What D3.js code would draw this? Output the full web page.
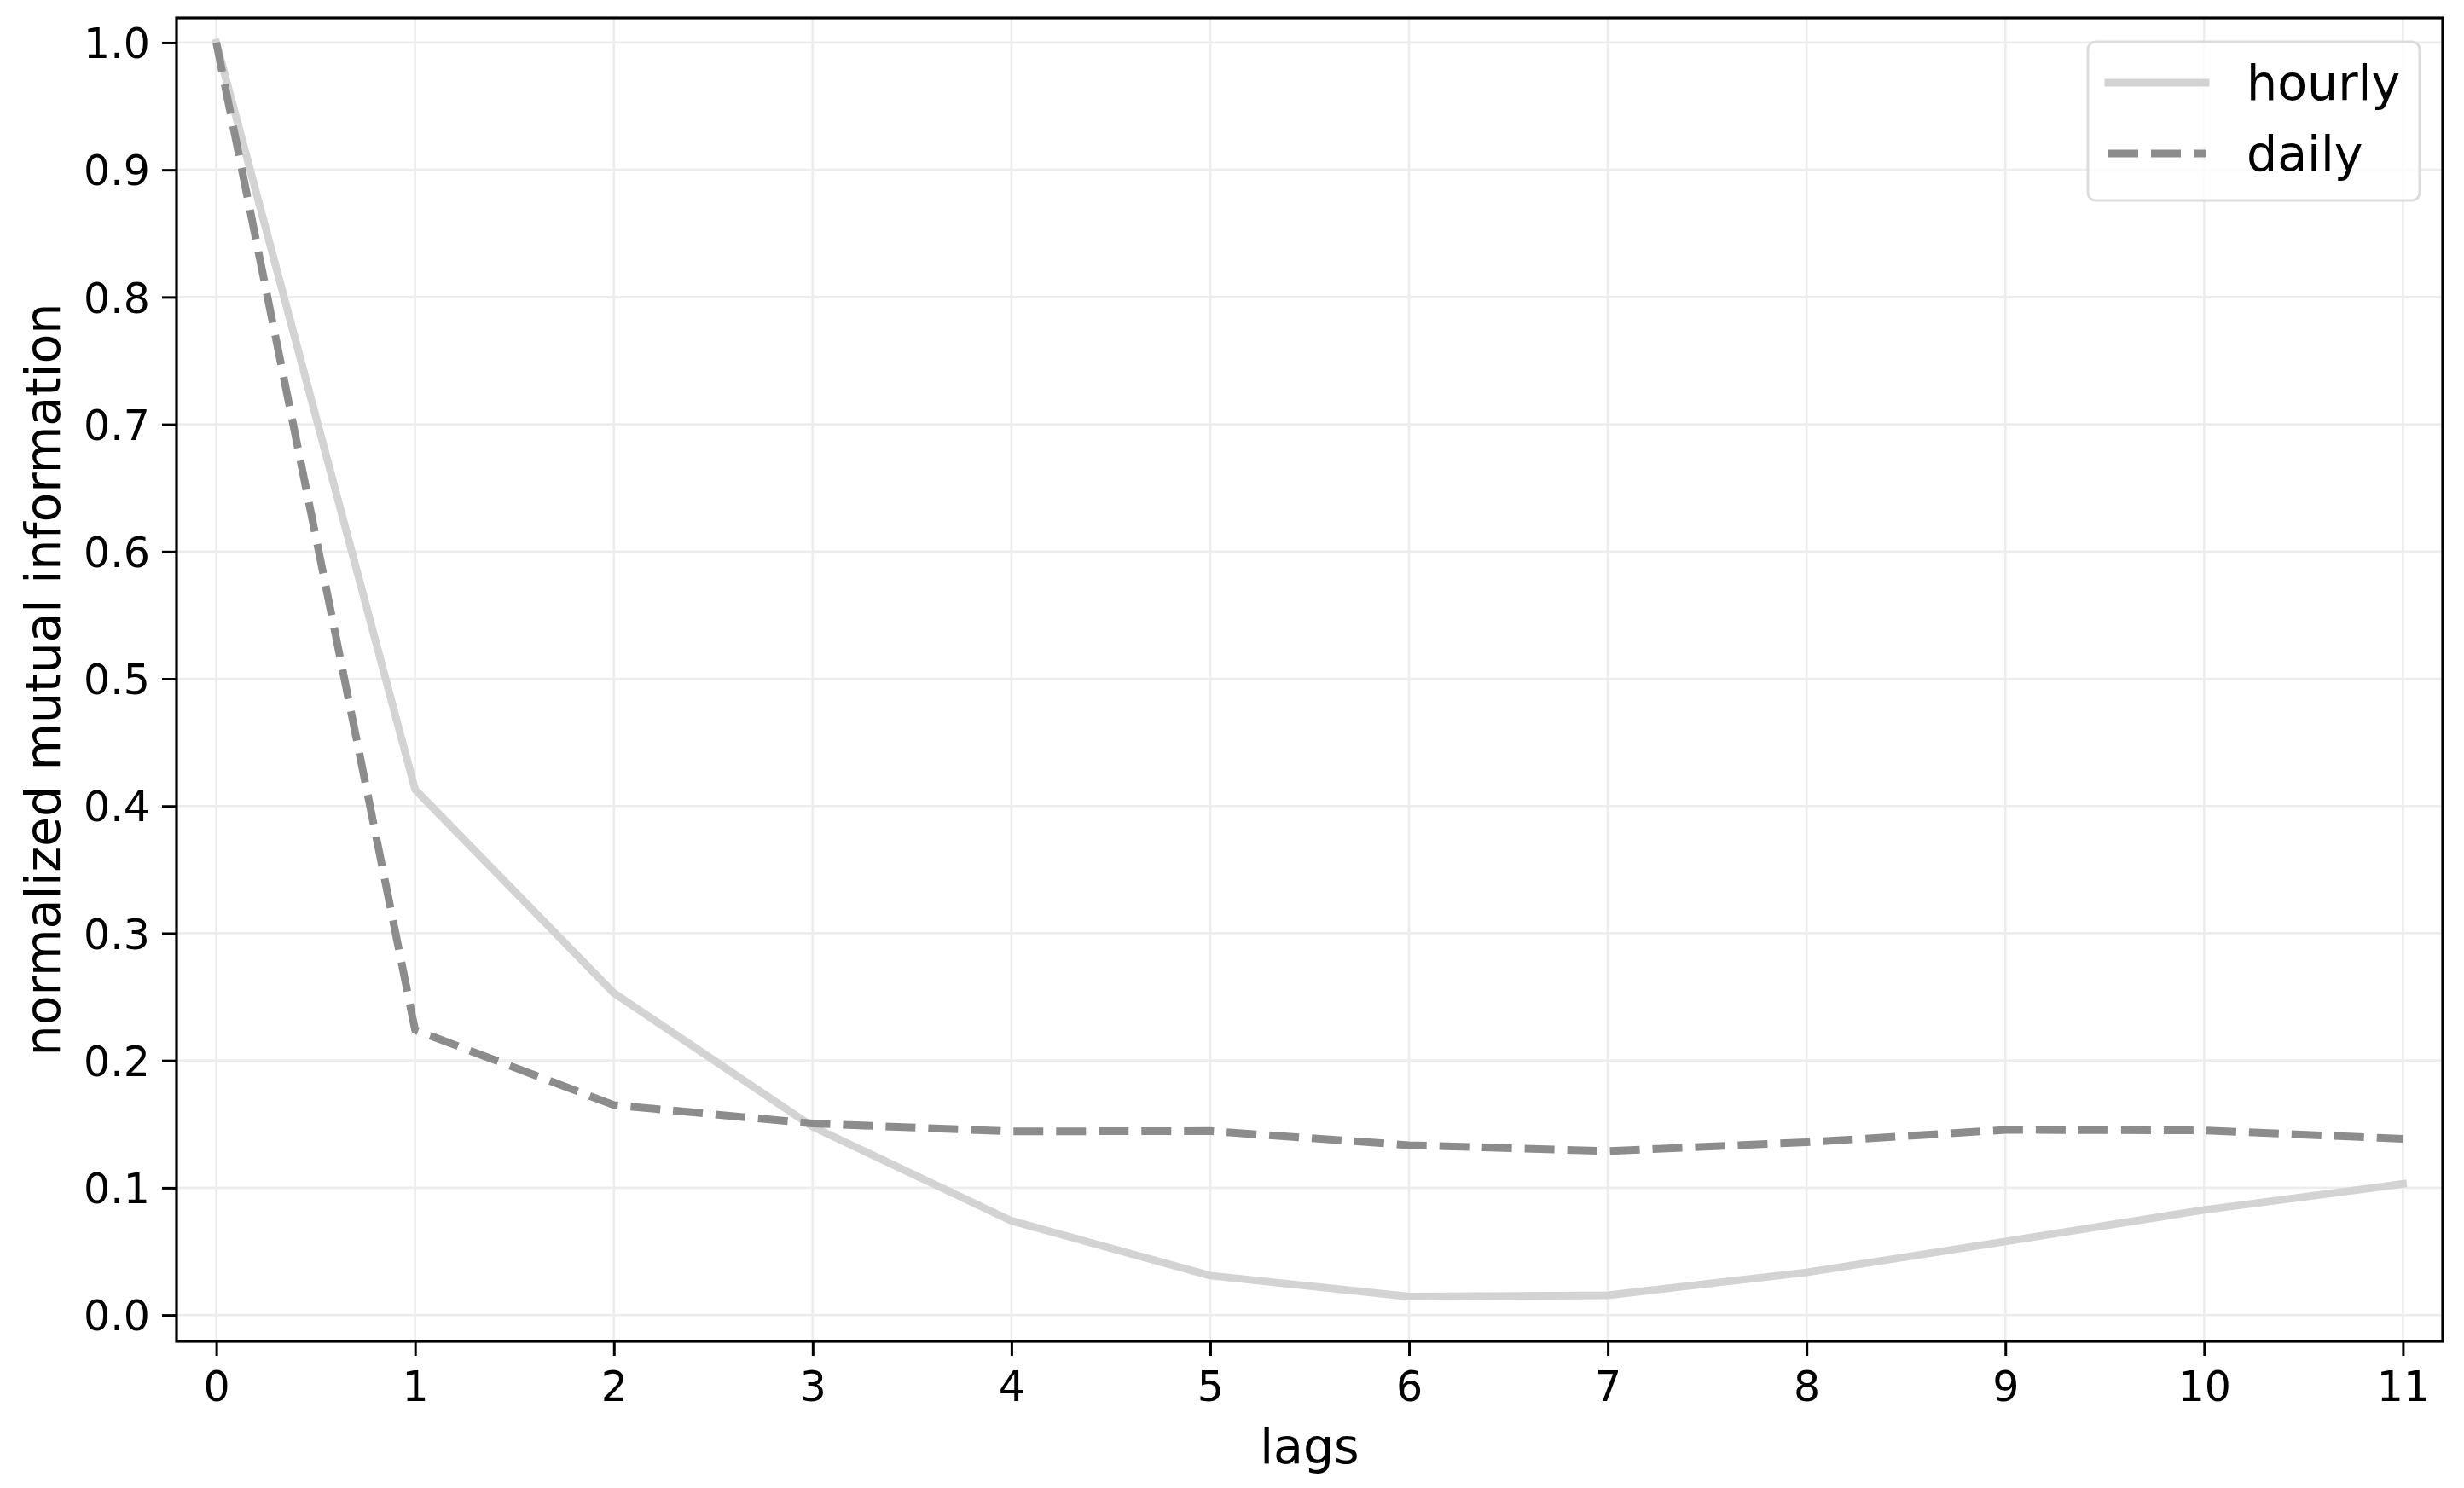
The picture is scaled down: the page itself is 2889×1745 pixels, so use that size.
<!DOCTYPE html>
<html>
<head>
<meta charset="utf-8">
<script src="https://cdn.jsdelivr.net/npm/d3@7"></script>
<style>
  html, body { margin: 0; padding: 0; background: #ffffff; }
  svg { display: block; }
  text { font-family: "DejaVu Sans", sans-serif; fill: #000; }
</style>
</head>
<body>
<svg id="chart" width="2889" height="1745"></svg>
<script>
// ---- data ----
const lags = [0, 1, 2, 3, 4, 5, 6, 7, 8, 9, 10, 11];
const hourly = [1.0, 0.413, 0.253, 0.148, 0.074, 0.031, 0.0145, 0.0155, 0.0335, 0.0578, 0.0826, 0.103];
const daily  = [1.0, 0.224, 0.165, 0.1505, 0.1443, 0.1446, 0.1335, 0.1288, 0.1358, 0.1455, 0.1451, 0.1385];
const seriesNames = ["hourly", "daily"];
const xTicks = [0, 1, 2, 3, 4, 5, 6, 7, 8, 9, 10, 11];
const yTicks = [0.0, 0.1, 0.2, 0.3, 0.4, 0.5, 0.6, 0.7, 0.8, 0.9, 1.0];
const xLabel = "lags";
const yLabel = "normalized mutual information";

// ---- layout ----
const L = 207, R = 2864, T = 21, B = 1573;
const svg = d3.select("#chart");

const x = d3.scaleLinear().domain([-0.2, 11.2]).range([L, R]);
const y = d3.scaleLinear().domain([-0.0207, 1.0194]).range([B, T]);

// grid
const grid = svg.append("g");
grid.selectAll("line.vx").data(xTicks).enter().append("line")
  .attr("x1", d => x(d)).attr("x2", d => x(d)).attr("y1", T).attr("y2", B)
  .attr("stroke", "#ededed").attr("stroke-width", 2.7);
grid.selectAll("line.hy").data(yTicks).enter().append("line")
  .attr("y1", d => y(d)).attr("y2", d => y(d)).attr("x1", L).attr("x2", R)
  .attr("stroke", "#ededed").attr("stroke-width", 2.7);

// lines
const line = d3.line().x((d, i) => x(lags[i])).y(d => y(d));
svg.append("path").datum(hourly).attr("d", line)
  .attr("fill", "none").attr("stroke", "#d3d3d3").attr("stroke-width", 9)
  .attr("stroke-linejoin", "round").attr("stroke-linecap", "square");
svg.append("path").datum(daily).attr("d", line)
  .attr("fill", "none").attr("stroke", "#8c8c8c").attr("stroke-width", 9)
  .attr("stroke-linejoin", "round").attr("stroke-linecap", "butt")
  .attr("stroke-dasharray", "35,15");

// axes
const xAxis = d3.axisBottom(x).tickValues(xTicks).tickFormat(d3.format("d")).tickSize(17).tickPadding(0);
const gx = svg.append("g").attr("transform", `translate(0,${B})`).call(xAxis);
gx.select(".domain").remove();
gx.selectAll(".tick line").attr("stroke", "#000").attr("stroke-width", 3);
gx.selectAll(".tick text").attr("font-size", 49).attr("y", 70).attr("dy", 0)
  .attr("font-family", "DejaVu Sans").attr("fill", "#000");

const yAxis = d3.axisLeft(y).tickValues(yTicks).tickFormat(d3.format(".1f")).tickSize(17).tickPadding(0);
const gy = svg.append("g").attr("transform", `translate(${L},0)`).call(yAxis);
gy.select(".domain").remove();
gy.selectAll(".tick line").attr("stroke", "#000").attr("stroke-width", 3);
gy.selectAll(".tick text").attr("font-size", 49).attr("x", -31).attr("dy", "0.36em")
  .attr("font-family", "DejaVu Sans").attr("fill", "#000");

// frame
svg.append("rect").attr("x", L).attr("y", T).attr("width", R - L).attr("height", B - T)
  .attr("fill", "none").attr("stroke", "#000").attr("stroke-width", 3.2);

// axis labels
svg.append("text").attr("x", (L + R) / 2).attr("y", 1716).attr("text-anchor", "middle")
  .attr("font-size", 57).text(xLabel);
svg.append("text").attr("transform", `translate(70,${(T + B) / 2}) rotate(-90)`)
  .attr("text-anchor", "middle").attr("font-size", 57).text(yLabel);

// legend
const lg = svg.append("g");
lg.append("rect").attr("x", 2448).attr("y", 49).attr("width", 389).attr("height", 186)
  .attr("rx", 9).attr("ry", 9)
  .attr("fill", "rgba(255,255,255,0.8)").attr("stroke", "#dcdcdc").attr("stroke-width", 3);
const legendStyles = [
  {color: "#d3d3d3", dash: null, cap: "square"},
  {color: "#8c8c8c", dash: "35,15", cap: "butt"}
];
seriesNames.forEach((name, i) => {
  const cy = 97 + i * 83;
  const st = legendStyles[i];
  const l = lg.append("line").attr("x1", 2472).attr("x2", 2586).attr("y1", cy).attr("y2", cy)
    .attr("stroke", st.color).attr("stroke-width", 9).attr("stroke-linecap", st.cap);
  if (st.dash) l.attr("stroke-dasharray", st.dash);
  lg.append("text").attr("x", 2634).attr("y", cy + 20).attr("font-size", 57).text(name);
});
</script>
</body>
</html>
